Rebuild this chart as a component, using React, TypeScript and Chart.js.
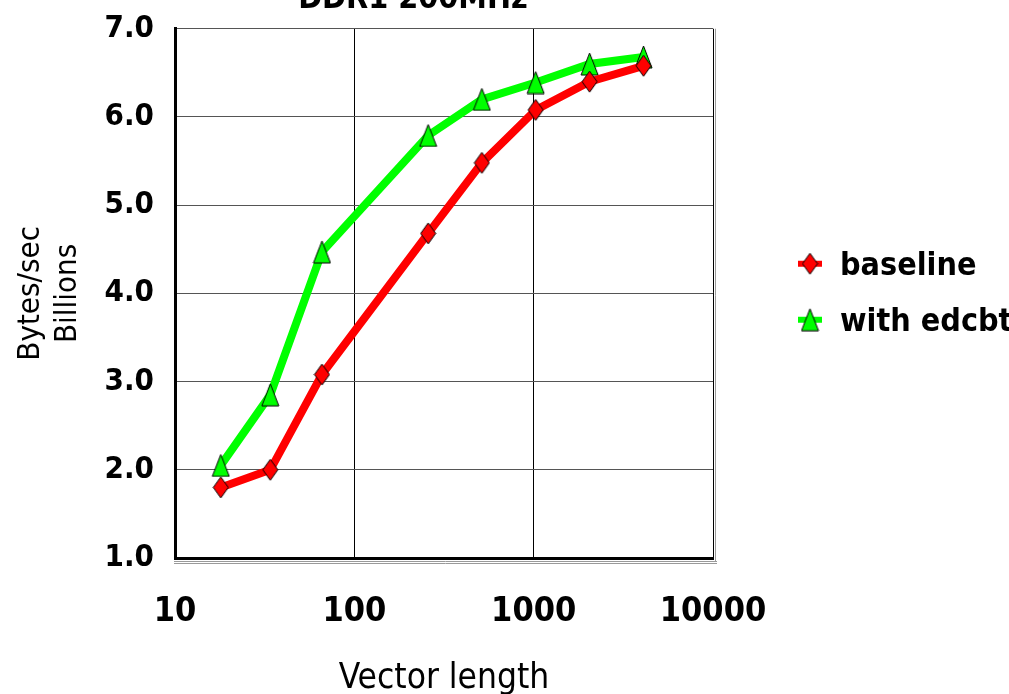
import React, { useEffect, useRef } from "react";
import { Chart, registerables } from "chart.js";

Chart.register(...registerables);

const vectorLengths = [18, 34, 66, 258, 514, 1026, 2050, 4098];
const baselineValues = [1.8, 2.0, 3.08, 4.68, 5.48, 6.08, 6.4, 6.58];
const edcbtValues = [2.05, 2.85, 4.47, 5.79, 6.2, 6.39, 6.6, 6.68];
const xTickValues = [10, 100, 1000, 10000];
const seriesNames = ["baseline", "with edcbt"];
const chartTitle = "DDR1 200MHz";
const yTitle = ["Bytes/sec", "Billions"];
const xTitle = "Vector length";

const FAMILY = '"DejaVu Sans Condensed", "Liberation Sans Narrow", sans-serif';

function makeMarker(kind: "diamond" | "triangle", w: number, h: number, fill: string) {
  const c = document.createElement("canvas");
  c.width = w + 2;
  c.height = h + 2;
  const ctx = c.getContext("2d")!;
  ctx.beginPath();
  if (kind === "diamond") {
    ctx.moveTo(1 + w / 2, 1);
    ctx.lineTo(1 + w, 1 + h / 2);
    ctx.lineTo(1 + w / 2, 1 + h);
    ctx.lineTo(1, 1 + h / 2);
  } else {
    ctx.moveTo(1 + w / 2, 1);
    ctx.lineTo(1 + w, 1 + h);
    ctx.lineTo(1, 1 + h);
  }
  ctx.closePath();
  ctx.fillStyle = fill;
  ctx.fill();
  ctx.strokeStyle = "#000";
  ctx.lineWidth = 1;
  ctx.stroke();
  return c;
}

export default function App() {
  const ref = useRef<HTMLCanvasElement | null>(null);

  useEffect(() => {
    if (!ref.current) return;
    const diamond = makeMarker("diamond", 15, 21, "#ff0000");
    const triangle = makeMarker("triangle", 17, 22, "#00ff00");
    const colors = ["#ff0000", "#00ff00"];
    const markers = [diamond, triangle];

    const decorPlugin = {
      id: "decor",
      afterDraw(chart: any) {
        const { ctx, chartArea } = chart;
        const { left, right, top, bottom } = chartArea;
        ctx.save();
        // shadow lines
        ctx.strokeStyle = "#9a9a9a";
        ctx.lineWidth = 1;
        ctx.beginPath();
        ctx.moveTo(left - 1, bottom + 3.5);
        ctx.lineTo(right + 4, bottom + 3.5);
        ctx.moveTo(left - 1, bottom + 5.5);
        ctx.lineTo(right + 4, bottom + 5.5);
        ctx.moveTo(right + 2.5, top);
        ctx.lineTo(right + 2.5, bottom + 4);
        ctx.stroke();
        // title
        ctx.fillStyle = "#000";
        ctx.font = "bold 32px " + FAMILY;
        ctx.textAlign = "center";
        ctx.textBaseline = "alphabetic";
        ctx.fillText(chartTitle, 413, 8);
        // legend
        const lx = right + 85;
        const rows = [top + 235, top + 291];
        seriesNames.forEach((name, i) => {
          const y = rows[i];
          ctx.strokeStyle = colors[i];
          ctx.lineWidth = 6;
          ctx.beginPath();
          ctx.moveTo(lx, y);
          ctx.lineTo(lx + 24, y);
          ctx.stroke();
          const m = markers[i];
          ctx.drawImage(m, lx + 12 - m.width / 2, y - m.height / 2);
          ctx.fillStyle = "#000";
          ctx.font = "bold 32px " + FAMILY;
          ctx.textAlign = "left";
          ctx.textBaseline = "middle";
          ctx.fillText(name, lx + 42, y + 3);
        });
        ctx.restore();
      },
    };

    const chart = new Chart(ref.current, {
      type: "line",
      data: {
        datasets: [
          {
            label: seriesNames[0],
            data: vectorLengths.map((x, i) => ({ x, y: baselineValues[i] })),
            borderColor: colors[0],
            backgroundColor: colors[0],
            borderWidth: 8,
            pointStyle: diamond as any,
            tension: 0,
          },
          {
            label: seriesNames[1],
            data: vectorLengths.map((x, i) => ({ x, y: edcbtValues[i] })),
            borderColor: colors[1],
            backgroundColor: colors[1],
            borderWidth: 8,
            pointStyle: triangle as any,
            tension: 0,
          },
        ],
      },
      options: {
        responsive: false,
        animation: false,
        layout: { padding: { top: 27, right: 296, left: 0, bottom: 0 } },
        plugins: {
          legend: { display: false },
          title: { display: false },
          tooltip: { enabled: false },
        },
        scales: {
          x: {
            type: "logarithmic",
            min: 10,
            max: 10000,
            afterBuildTicks: (scale: any) => {
              scale.ticks = xTickValues.map((v) => ({ value: v }));
            },
            afterFit: (scale: any) => {
              scale.height = 136;
            },
            ticks: {
              autoSkip: false,
              maxRotation: 0,
              padding: 34,
              color: "#000",
              font: { family: FAMILY, size: 34, weight: "bold" },
              callback: (v: any) => String(v),
            },
            grid: { color: "#000", lineWidth: 1, drawTicks: false },
            border: { color: "#000", width: 3 },
            title: {
              display: true,
              text: xTitle,
              color: "#000",
              font: { family: FAMILY, size: 35, lineHeight: 0.9 },
              padding: { top: 0, bottom: -1 },
            },
          },
          y: {
            min: 1,
            max: 7,
            afterFit: (scale: any) => {
              scale.width = 175;
            },
            ticks: {
              stepSize: 1,
              padding: 21,
              color: "#000",
              font: { family: FAMILY, size: 31, weight: "bold", lineHeight: 0.5 },
              callback: (v: any) => Number(v).toFixed(1),
            },
            grid: { color: "#555", lineWidth: 1, drawTicks: false },
            border: { color: "#000", width: 3 },
            title: {
              display: true,
              text: yTitle,
              color: "#000",
              font: { family: FAMILY, size: 31, lineHeight: 1.2 },
              padding: { top: 12, bottom: 0 },
            },
          },
        },
      },
      plugins: [decorPlugin],
    } as any);
    return () => chart.destroy();
  }, []);

  return (
    <div style={{ position: "fixed", left: 0, top: 0, width: 1009, height: 694, background: "#fff" }}>
      <canvas ref={ref} width={1009} height={694} style={{ display: "block" }} />
    </div>
  );
}
